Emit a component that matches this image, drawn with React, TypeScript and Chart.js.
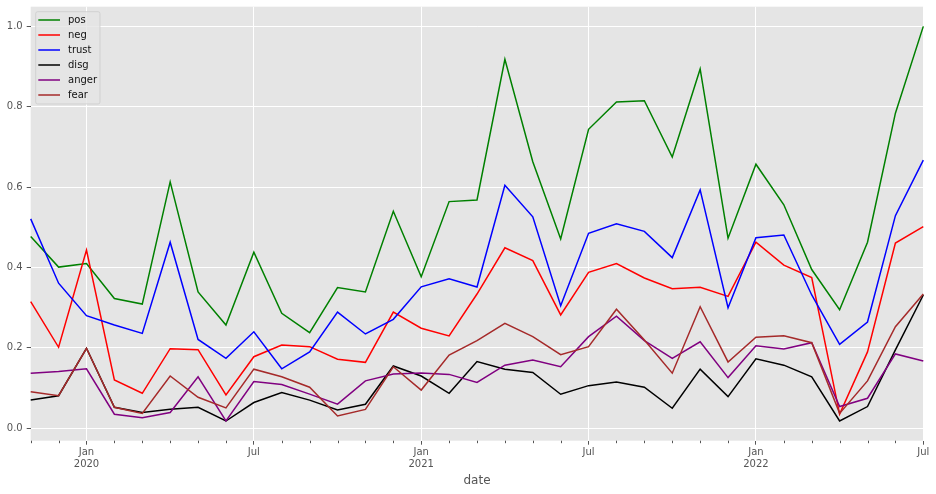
import React, { useEffect, useRef } from "react";
import { Chart, registerables } from "chart.js";

Chart.register(...registerables);

const categories = [
  "2019-11", "2019-12", "2020-01", "2020-02", "2020-03", "2020-04", "2020-05", "2020-06", "2020-07", "2020-08", "2020-09",
  "2020-10", "2020-11", "2020-12", "2021-01", "2021-02", "2021-03", "2021-04", "2021-05", "2021-06", "2021-07", "2021-08",
  "2021-09", "2021-10", "2021-11", "2021-12", "2022-01", "2022-02", "2022-03", "2022-04", "2022-05", "2022-06", "2022-07",
];

const pos = [0.477, 0.401, 0.41, 0.323, 0.309, 0.613, 0.339, 0.257, 0.438, 0.286, 0.238,
  0.35, 0.339, 0.54, 0.377, 0.564, 0.568, 0.918, 0.663, 0.471, 0.744, 0.812,
  0.815, 0.675, 0.894, 0.473, 0.657, 0.556, 0.395, 0.295, 0.463, 0.784, 1.0];
const neg = [0.315, 0.2015, 0.4435, 0.12, 0.087, 0.198, 0.1955, 0.083, 0.178, 0.207, 0.203,
  0.1716, 0.164, 0.289, 0.249, 0.2296, 0.334, 0.449, 0.417, 0.282, 0.388, 0.41,
  0.374, 0.347, 0.351, 0.328, 0.463, 0.406, 0.375, 0.035, 0.19, 0.461, 0.5015];
const trust = [0.521, 0.361, 0.28, 0.257, 0.236, 0.463, 0.221, 0.174, 0.24, 0.148, 0.19,
  0.289, 0.2346, 0.271, 0.352, 0.372, 0.3515, 0.6045, 0.526, 0.305, 0.485, 0.509,
  0.49, 0.4245, 0.593, 0.3, 0.474, 0.481, 0.3316, 0.209, 0.2644, 0.529, 0.667];
const disg = [0.0704, 0.081, 0.199, 0.052, 0.039, 0.047, 0.052, 0.018, 0.064, 0.0886, 0.07,
  0.0455, 0.0597, 0.155, 0.13, 0.087, 0.166, 0.147, 0.139, 0.0846, 0.106, 0.115,
  0.102, 0.0497, 0.147, 0.0787, 0.173, 0.157, 0.128, 0.018, 0.054, 0.195, 0.3316];
const anger = [0.137, 0.141, 0.148, 0.035, 0.0264, 0.039, 0.128, 0.018, 0.116, 0.109, 0.085,
  0.06, 0.118, 0.135, 0.1376, 0.134, 0.114, 0.157, 0.17, 0.153, 0.228, 0.279,
  0.218, 0.174, 0.215, 0.126, 0.205, 0.197, 0.213, 0.054, 0.0746, 0.185, 0.1675];
const fear = [0.091, 0.081, 0.199, 0.052, 0.037, 0.13, 0.077, 0.0505, 0.147, 0.128, 0.102,
  0.0306, 0.047, 0.153, 0.095, 0.182, 0.218, 0.261, 0.228, 0.183, 0.203, 0.296,
  0.2197, 0.137, 0.3025, 0.165, 0.2264, 0.2304, 0.213, 0.037, 0.1177, 0.2527, 0.334];

const seriesNames = ["pos", "neg", "trust", "disg", "anger", "fear"];
const seriesValues = [pos, neg, trust, disg, anger, fear];
const seriesColors = ["#008000", "#ff0000", "#0000ff", "#000000", "#800080", "#a52a2a"];

const yTicks = [0, 0.2, 0.4, 0.6, 0.8, 1.0];
const monthNames = ["Jan", "Feb", "Mar", "Apr", "May", "Jun", "Jul", "Aug", "Sep", "Oct", "Nov", "Dec"];

const FONT = "'DejaVu Sans', sans-serif";
const TEXT = "#555555";

function tickLabel(i: number): string | string[] {
  const [y, m] = categories[i].split("-").map(Number);
  if (m === 1) return [monthNames[0], String(y)];
  if (m === 7) return monthNames[6];
  return "";
}
function isMajor(i: number): boolean {
  const m = Number(categories[i].split("-")[1]);
  return m === 1 || m === 7;
}

const bgPlugin = {
  id: "bgPlugin",
  beforeDraw(chart: any) {
    const { ctx, chartArea } = chart;
    ctx.save();
    ctx.fillStyle = "#e5e5e5";
    ctx.fillRect(chartArea.left, chartArea.top, chartArea.right - chartArea.left, chartArea.bottom - chartArea.top);
    ctx.restore();
  },
  afterDraw(chart: any) {
    const { ctx, chartArea } = chart;
    const xs = chart.scales.x;
    ctx.save();
    ctx.strokeStyle = TEXT;
    ctx.lineWidth = 1;
    for (let i = 0; i < categories.length; i++) {
      if (isMajor(i)) continue;
      const px = Math.round(xs.getPixelForTick(i)) + 0.5;
      ctx.beginPath();
      ctx.moveTo(px, chartArea.bottom);
      ctx.lineTo(px, chartArea.bottom + 2.5);
      ctx.stroke();
    }
    // legend
    const bx = 35.7, by = 11.7, bw = 64.3, bh = 92.3, r = 2;
    ctx.beginPath();
    ctx.moveTo(bx + r, by);
    ctx.lineTo(bx + bw - r, by);
    ctx.arcTo(bx + bw, by, bx + bw, by + r, r);
    ctx.lineTo(bx + bw, by + bh - r);
    ctx.arcTo(bx + bw, by + bh, bx + bw - r, by + bh, r);
    ctx.lineTo(bx + r, by + bh);
    ctx.arcTo(bx, by + bh, bx, by + bh - r, r);
    ctx.lineTo(bx, by + r);
    ctx.arcTo(bx, by, bx + r, by, r);
    ctx.closePath();
    ctx.fillStyle = "rgba(229,229,229,0.8)";
    ctx.fill();
    ctx.strokeStyle = "rgba(204,204,204,0.8)";
    ctx.stroke();
    chart.data.datasets.forEach((ds: any, i: number) => {
      const y = 20 + 15 * i;
      ctx.beginPath();
      ctx.strokeStyle = ds.borderColor;
      ctx.lineWidth = 1.5;
      ctx.moveTo(38.3, y);
      ctx.lineTo(60, y);
      ctx.stroke();
      ctx.fillStyle = "#111";
      ctx.font = `10px ${FONT}`;
      ctx.textBaseline = "middle";
      ctx.textAlign = "left";
      ctx.fillText(ds.label, 68, y);
    });
    ctx.restore();
  },
};

export default function App() {
  const ref = useRef<HTMLCanvasElement | null>(null);
  useEffect(() => {
    document.body.style.margin = "0";
    if (!ref.current) return;
    const chart = new Chart(ref.current, {
      type: "line",
      data: {
        labels: categories,
        datasets: seriesNames.map((name, i) => ({
          label: name,
          data: seriesValues[i],
          borderColor: seriesColors[i],
          backgroundColor: seriesColors[i],
          borderWidth: 1.5,
          pointRadius: 0,
          pointHoverRadius: 0,
          tension: 0,
          fill: false,
          order: seriesNames.length - i,
        })),
      },
      options: {
        animation: false,
        responsive: false,
        devicePixelRatio: 1,
        events: [],
        layout: { padding: { left: 0, top: 6.7, right: 12.7, bottom: 0 } },
        plugins: { legend: { display: false }, tooltip: { enabled: false } },
        scales: {
          x: {
            type: "category",
            offset: false,
            afterFit(scale: any) {
              scale.height = 53.3;
              scale.paddingLeft = 0;
              scale.paddingRight = 0;
            },
            border: { display: false },
            grid: {
              offset: false,
              lineWidth: 1,
              color: (c: any) => (isMajor(c.index) ? "#ffffff" : "rgba(0,0,0,0)"),
              tickColor: (c: any) => (isMajor(c.index) ? TEXT : "rgba(0,0,0,0)"),
              tickLength: 4,
            },
            ticks: {
              autoSkip: false,
              maxRotation: 0,
              minRotation: 0,
              padding: 2,
              color: TEXT,
              font: { family: FONT, size: 10 },
              callback: (_v: any, i: number) => tickLabel(i),
            },
            title: {
              display: true,
              text: "date",
              color: TEXT,
              font: { family: FONT, size: 12 },
              padding: { top: 0, bottom: 6 },
            },
          },
          y: {
            type: "linear",
            min: -0.031,
            max: 1.049,
            afterFit(scale: any) {
              scale.width = 30.7;
              scale.paddingTop = 0;
              scale.paddingBottom = 0;
            },
            afterBuildTicks(scale: any) { scale.ticks = yTicks.map((v) => ({ value: v })); },
            border: { display: false },
            grid: { color: "#ffffff", lineWidth: 1, tickColor: TEXT, tickLength: 4 },
            ticks: {
              padding: 4,
              color: TEXT,
              font: { family: FONT, size: 10 },
              callback: (v: any) => Number(v).toFixed(1),
            },
          },
        },
      },
      plugins: [bgPlugin],
    });
    return () => chart.destroy();
  }, []);
  return (
    <div style={{ width: 936, height: 494, background: "#fff" }}>
      <canvas ref={ref} width={936} height={494} style={{ display: "block" }} />
    </div>
  );
}
